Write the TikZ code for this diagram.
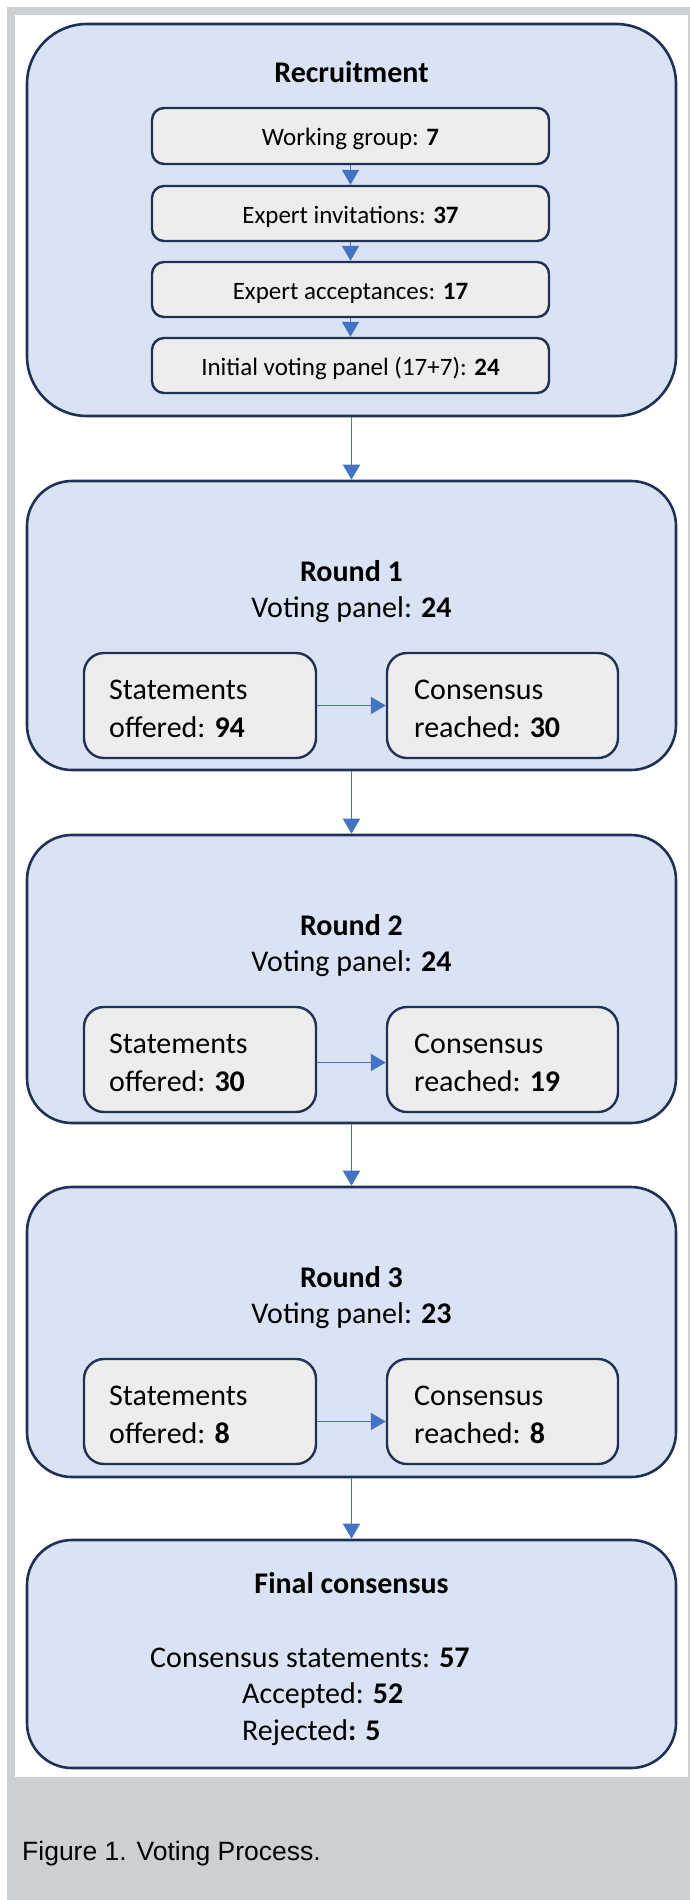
\documentclass[tikz,border=0pt]{standalone}
\usepackage{fontspec}
\setmainfont{Carlito}
\newfontfamily\capfont{Liberation Sans}
\usetikzlibrary{arrows.meta}
\definecolor{framegrey}{RGB}{205,208,211}
\definecolor{boxblue}{RGB}{218,227,243}
\definecolor{navy}{RGB}{31,50,86}
\definecolor{innergrey}{RGB}{237,237,237}
\definecolor{arrowblue}{RGB}{68,114,196}
\begin{document}
\begin{tikzpicture}[x=1pt,y=-1pt,
  outerbox/.style={draw=navy, line width=2.6pt, fill=boxblue, minimum width=649pt, inner sep=0pt},
  recbox/.style={draw=navy, line width=2.4pt, fill=innergrey, rounded corners=12pt, minimum width=397pt, inner sep=0pt, text height=20pt, text depth=0pt, font=\fontsize{25}{30}\selectfont},
  stbox/.style={draw=navy, line width=2.4pt, fill=innergrey, rounded corners=20pt, minimum height=105pt, inner sep=0pt},
  txt/.style={inner sep=0pt, font=\fontsize{30}{36}\selectfont},
  arr/.style={draw=arrowblue, line width=1.7pt, -{Triangle[width=17pt,length=15pt]}}]
\useasboundingbox (0,0) rectangle (690,1900);
\fill[white] (0,0) rectangle (690,1900);
\fill[framegrey] (7,7) rectangle (690,1900);
\fill[white] (15,15) rectangle (688,1777);

% Recruitment
\node[outerbox, rounded corners=60pt, minimum height=392pt] (rec) at (351.5,220) {};
\node[txt, anchor=base] (rect) at (351.5,83) {\textbf{Recruitment}};
\node[recbox, minimum height=56pt] (w1) at (350.5,136) {Working group: \textbf{7}};
\node[recbox, minimum height=55pt] (w2) at (350.5,213.5) {Expert invitations: \textbf{37}};
\node[recbox, minimum height=55pt] (w3) at (350.5,289.5) {Expert acceptances: \textbf{17}};
\node[recbox, minimum height=55pt] (w4) at (350.5,365.5) {Initial voting panel (17+7): \textbf{24}};
\draw[arr] (w1.south) -- (w2.north);
\draw[arr] (w2.south) -- (w3.north);
\draw[arr] (w3.south) -- (w4.north);

% Round 1
\node[outerbox, rounded corners=45pt, minimum height=289pt] (r1) at (351.5,625.5) {};
\node[txt, anchor=base] (r1t) at (351.5,581) {\textbf{Round 1}};
\node[txt, anchor=base] (r1v) at (351.5,617) {Voting panel: \textbf{24}};
\node[stbox, minimum width=232pt] (s1) at (200,705.5) {};
\node[stbox, minimum width=231pt] (c1) at (502.5,705.5) {};
\node[txt, anchor=base west] (s1a) at (109,699) {Statements};
\node[txt, anchor=base west] (s1b) at (109,737) {offered: \textbf{94}};
\node[txt, anchor=base west] (c1a) at (414,699) {Consensus};
\node[txt, anchor=base west] (c1b) at (414,737) {reached: \textbf{30}};
\draw[arr] (s1.east) -- (c1.west);

% Round 2
\node[outerbox, rounded corners=45pt, minimum height=288pt] (r2) at (351.5,979) {};
\node[txt, anchor=base] (r2t) at (351.5,935) {\textbf{Round 2}};
\node[txt, anchor=base] (r2v) at (351.5,971) {Voting panel: \textbf{24}};
\node[stbox, minimum width=232pt] (s2) at (200,1059.5) {};
\node[stbox, minimum width=231pt] (c2) at (502.5,1059.5) {};
\node[txt, anchor=base west] (s2a) at (109,1053) {Statements};
\node[txt, anchor=base west] (s2b) at (109,1091) {offered: \textbf{30}};
\node[txt, anchor=base west] (c2a) at (414,1053) {Consensus};
\node[txt, anchor=base west] (c2b) at (414,1091) {reached: \textbf{19}};
\draw[arr] ([yshift=-3pt]s2.east) -- ([yshift=-3pt]c2.west);

% Round 3
\node[outerbox, rounded corners=45pt, minimum height=290pt] (r3) at (351.5,1332) {};
\node[txt, anchor=base] (r3t) at (351.5,1287) {\textbf{Round 3}};
\node[txt, anchor=base] (r3v) at (351.5,1323) {Voting panel: \textbf{23}};
\node[stbox, minimum width=232pt] (s3) at (200,1411.5) {};
\node[stbox, minimum width=231pt] (c3) at (502.5,1411.5) {};
\node[txt, anchor=base west] (s3a) at (109,1405) {Statements};
\node[txt, anchor=base west] (s3b) at (109,1443) {offered: \textbf{8}};
\node[txt, anchor=base west] (c3a) at (414,1405) {Consensus};
\node[txt, anchor=base west] (c3b) at (414,1443) {reached: \textbf{8}};
\draw[arr] ([yshift=-10pt]s3.east) -- ([yshift=-10pt]c3.west);

% Final
\node[outerbox, rounded corners=45pt, minimum height=228pt] (fin) at (351.5,1654) {};
\node[txt, anchor=base] (fint) at (351.5,1593) {\textbf{Final consensus}};
\node[txt, anchor=base west] (fin1) at (150,1667) {Consensus statements: \textbf{57}};
\node[txt, anchor=base west] (fin2) at (242,1703) {Accepted: \textbf{52}};
\node[txt, anchor=base west] (fin3) at (242,1740) {Rejected\textbf{: 5}};

% connectors between stages
\draw[arr] (rec.south) -- (r1.north);
\draw[arr] (r1.south) -- (r2.north);
\draw[arr] (r2.south) -- (r3.north);
\draw[arr] (r3.south) -- (fin.north);

% caption
\node[anchor=base west, inner sep=0pt, font=\capfont\fontsize{26.5}{31}\selectfont] (cap) at (22,1860) {Figure 1. Voting Process.};
\end{tikzpicture}
\end{document}
